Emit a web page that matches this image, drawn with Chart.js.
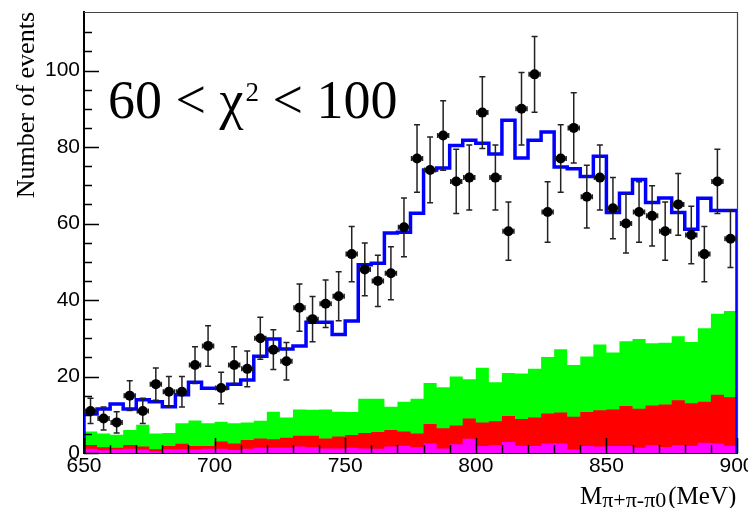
<!DOCTYPE html>
<html><head><meta charset="utf-8">
<script src="https://cdn.jsdelivr.net/npm/chart.js@4/dist/chart.umd.min.js"></script>
<style>
html,body{margin:0;padding:0;background:#fff;}
#wrap{position:relative;width:748px;height:508px;overflow:hidden;background:#fff;}
canvas{display:block}
.ann{position:absolute;left:108px;top:73px;font-family:'Liberation Serif','Times New Roman',serif;font-size:54px;line-height:54px;white-space:nowrap;color:#000;}
.ann .sup{font-size:27px;position:relative;top:-17px;margin-left:2px}
.xt{position:absolute;left:580px;top:483px;font-family:'Liberation Serif','Times New Roman',serif;font-size:25px;line-height:25px;white-space:nowrap;color:#000}
.xt .sub{font-size:22px;position:relative;top:3px;margin-right:2px}
</style></head>
<body><div id="wrap"><canvas id="c" width="748" height="508"></canvas>
<div class="ann">60 &lt; χ<span class="sup">2</span> &lt; 100</div>
<div class="xt">M<span class="sub">π+π-π0</span>(MeV)</div></div>
<script>
// ---- data (bin width 5 MeV) ----
const binCenters = [652.5,657.5,662.5,667.5,672.5,677.5,682.5,687.5,692.5,697.5,
  702.5,707.5,712.5,717.5,722.5,727.5,732.5,737.5,742.5,747.5,
  752.5,757.5,762.5,767.5,772.5,777.5,782.5,787.5,792.5,797.5,
  802.5,807.5,812.5,817.5,822.5,827.5,832.5,837.5,842.5,847.5,
  852.5,857.5,862.5,867.5,872.5,877.5,882.5,887.5,892.5,897.5];
const binHalfWidth = 2.5;
const dataCounts = [11,9,8,15,11, 18,16,16,23,28, 17,23,22,30,27, 24,38,35,39,41,
  52,48,45,47,59, 77,74,83,71,72, 89,72,58,90,99, 63,77,85,67,72,
  64,60,63,62,58, 65,57,52,71,56];
const dataErrors = [3.3,3.0,2.8,3.9,3.3, 4.2,4.0,4.0,4.8,5.3, 4.1,4.8,4.7,5.5,5.2,
  4.9,6.2,5.9,6.2,6.4, 7.2,6.9,6.7,6.9,7.7, 8.8,8.6,9.1,8.4,8.5,
  9.4,8.5,7.6,9.5,9.9, 7.9,8.8,9.2,8.2,8.5, 8.0,7.7,7.9,7.9,7.6,
  8.1,7.5,7.2,8.4,7.5];
const fitTotal = [10.2,11.5,12.8,11.5,13.9, 13.4,12.1,15.2,18.5,16.9, 16.9,18.0,19.1,25.3,29.8,
  27.2,28.0,34.2,34.2,31.0, 34.5,49.2,49.6,57.5,57.7, 62.7,74.0,74.5,80.4,81.8,
  81.0,78.2,87.0,77.1,81.8, 83.9,74.8,74.3,72.3,77.6, 62.9,67.9,71.5,65.5,66.7,
  62.9,58.5,66.6,63.4,63.4];
const greenLevel = [5.6,5.1,4.8,6.0,7.4, 5.1,5.2,7.8,8.5,7.8, 8.2,7.8,8.0,8.4,10.8,
  9.3,11.4,11.3,11.4,10.8, 10.7,14.2,14.2,12.1,13.4, 14.2,18.3,17.2,20.0,19.3,
  22.3,18.5,20.9,20.8,22.0, 25.1,27.1,23.0,25.2,28.4, 26.3,29.2,29.8,28.7,28.8,
  30.5,29.0,32.6,36.4,37.1];
const redLevel = [2.1,1.5,1.4,2.1,1.7, 1.0,1.8,2.4,1.8,1.8, 3.0,2.5,3.4,3.8,3.6,
  4.0,4.5,4.5,3.8,4.3, 4.7,5.2,5.5,6.0,5.6, 5.1,7.6,6.5,7.2,9.0,
  8.0,8.3,9.7,8.9,9.3, 10.3,10.6,9.5,10.7,11.2, 11.4,12.3,11.6,12.4,12.7,
  13.8,13.0,13.4,15.2,14.6];
const magentaLevel = [1.1,0.7,0.9,1.1,0.9, 0.4,1.0,1.0,0.9,1.1, 1.1,0.8,1.1,1.4,1.4,
  1.4,1.7,1.5,1.2,1.2, 1.4,1.2,1.1,1.7,1.9, 1.5,2.5,1.2,2.3,3.7,
  1.8,2.0,2.9,1.9,1.8, 2.5,2.5,0.9,1.8,1.7, 1.8,1.8,1.4,2.0,1.6,
  2.0,1.9,2.7,2.5,1.9];
const xRange = [650, 900];
const yRange = [0, 115.3];
const xMajorEvery = 50, xMinorEvery = 10;
const yMajorEvery = 20, yMinorEvery = 5;
const yTitle = 'Number of events';

// ---- helpers ----
function stepPoints(levels){
  const n = binCenters.length;
  const pts = [{x: binCenters[0]-binHalfWidth, y: 0}];
  levels.forEach((v,i)=>pts.push({x: binCenters[i]-binHalfWidth, y: v}));
  pts.push({x: binCenters[n-1]+binHalfWidth, y: levels[n-1]});
  pts.push({x: binCenters[n-1]+binHalfWidth, y: 0});
  return pts;
}
const isMult = (v,m) => Math.abs(v/m - Math.round(v/m)) < 1e-6;
const tickFont = {family:"'Liberation Sans Narrow','Arial Narrow','Liberation Sans',Arial,sans-serif", size:21};

const rootAxes = {
  id:'rootAxes',
  beforeDatasetsDraw(chart){
    const {ctx, chartArea:a} = chart;
    ctx.save();
    ctx.strokeStyle = '#444'; ctx.lineWidth = 1.2;
    ctx.beginPath();
    ctx.moveTo(a.left, a.top+0.5); ctx.lineTo(a.right+0.5, a.top+0.5); ctx.lineTo(a.right+0.5, a.bottom);
    ctx.stroke();
    ctx.restore();
  },
  beforeDatasetDraw(chart, args){
    if (args.index !== 4) return;
    const {ctx, scales:{x,y}} = chart;
    ctx.save();
    ctx.strokeStyle = '#222'; ctx.lineWidth = 1.5;
    binCenters.forEach((c,i)=>{
      const px = x.getPixelForValue(c);
      const py = y.getPixelForValue(dataCounts[i]);
      const yHi = y.getPixelForValue(dataCounts[i]+dataErrors[i]);
      const yLo = y.getPixelForValue(dataCounts[i]-dataErrors[i]);
      const xL = x.getPixelForValue(c-2.1), xR = x.getPixelForValue(c+2.1);
      ctx.beginPath();
      ctx.moveTo(px, yHi); ctx.lineTo(px, yLo);
      ctx.moveTo(px-3, yHi); ctx.lineTo(px+3, yHi);
      ctx.moveTo(px-3, yLo); ctx.lineTo(px+3, yLo);
      ctx.moveTo(xL, py); ctx.lineTo(xR, py);
      ctx.moveTo(xL, py-2.5); ctx.lineTo(xL, py+2.5);
      ctx.moveTo(xR, py-2.5); ctx.lineTo(xR, py+2.5);
      ctx.stroke();
    });
    ctx.restore();
  },
  afterDatasetsDraw(chart){
    const {ctx, chartArea:a, scales:{x,y}} = chart;
    ctx.save();
    ctx.strokeStyle = '#000'; ctx.lineWidth = 1.5;
    ctx.beginPath();
    x.ticks.forEach(t=>{
      if (!isMult(t.value, xMinorEvery)) return;
      const px = Math.round(x.getPixelForValue(t.value)) + 0.5;
      const L = isMult(t.value, xMajorEvery) ? 15 : 8;
      ctx.moveTo(px, a.bottom); ctx.lineTo(px, a.bottom - L);
    });
    y.ticks.forEach(t=>{
      if (!isMult(t.value, yMinorEvery)) return;
      const py = Math.round(y.getPixelForValue(t.value)) + 0.5;
      const L = isMult(t.value, yMajorEvery) ? 15 : 8;
      ctx.moveTo(a.left, py); ctx.lineTo(a.left + L, py);
    });
    ctx.stroke();
    ctx.restore();
  }
};

new Chart(document.getElementById('c'), {
  type: 'line',
  data: { datasets: [
    {label:'bkg green', data: stepPoints(greenLevel), stepped:true, fill:'origin',
      backgroundColor:'#00ff00', borderColor:'rgba(0,0,0,0)', borderWidth:1, pointRadius:0, order:6},
    {label:'bkg red', data: stepPoints(redLevel), stepped:true, fill:'origin',
      backgroundColor:'#ff0000', borderColor:'rgba(0,0,0,0)', borderWidth:1, pointRadius:0, order:5},
    {label:'bkg magenta', data: stepPoints(magentaLevel), stepped:true, fill:'origin',
      backgroundColor:'#ff00ff', borderColor:'rgba(0,0,0,0)', borderWidth:1, pointRadius:0, order:4},
    {label:'fit', data: stepPoints(fitTotal), stepped:true, fill:false,
      borderColor:'#0000ff', borderWidth:3.5, pointRadius:0, order:3},
    {label:'data', data: binCenters.map((c,i)=>({x:c, y:dataCounts[i]})), showLine:false,
      pointRadius:5, pointHoverRadius:5, pointBackgroundColor:'#000', pointBorderColor:'#000', pointBorderWidth:0, order:1}
  ]},
  options: {
    responsive:false, animation:false, devicePixelRatio:1,
    layout:{padding:{top:12, right:11, left:0, bottom:0}, autoPadding:false},
    plugins:{legend:{display:false}, tooltip:{enabled:false}},
    scales:{
      x:{type:'linear', min:xRange[0], max:xRange[1],
        border:{display:true, color:'#000', width:2},
        grid:{display:true, drawOnChartArea:false, drawTicks:false},
        ticks:{stepSize:xMinorEvery, autoSkip:false, maxRotation:0, minRotation:0, padding:1, color:'#000', font:tickFont,
          callback:(v)=> isMult(v, xMajorEvery) ? String(Math.round(v)) : ''},
        afterFit(s){ s.height = 55; s.paddingLeft = 0; s.paddingRight = 0; }
      },
      y:{type:'linear', min:yRange[0], max:yRange[1],
        border:{display:true, color:'#000', width:2},
        grid:{display:true, drawOnChartArea:false, drawTicks:false},
        ticks:{stepSize:yMinorEvery, autoSkip:false, padding:4, color:'#000', font:tickFont,
          callback:(v)=> isMult(v, yMajorEvery) ? String(Math.round(v)) : ''},
        title:{display:true, text:yTitle, align:'end', color:'#000', padding:{top:12, bottom:0},
          font:{family:"'Liberation Serif','Times New Roman',serif", size:26}},
        afterFit(s){ s.width = 84; s.paddingTop = 0; s.paddingBottom = 0; }
      }
    }
  },
  plugins:[rootAxes]
});
</script>
</body></html>
